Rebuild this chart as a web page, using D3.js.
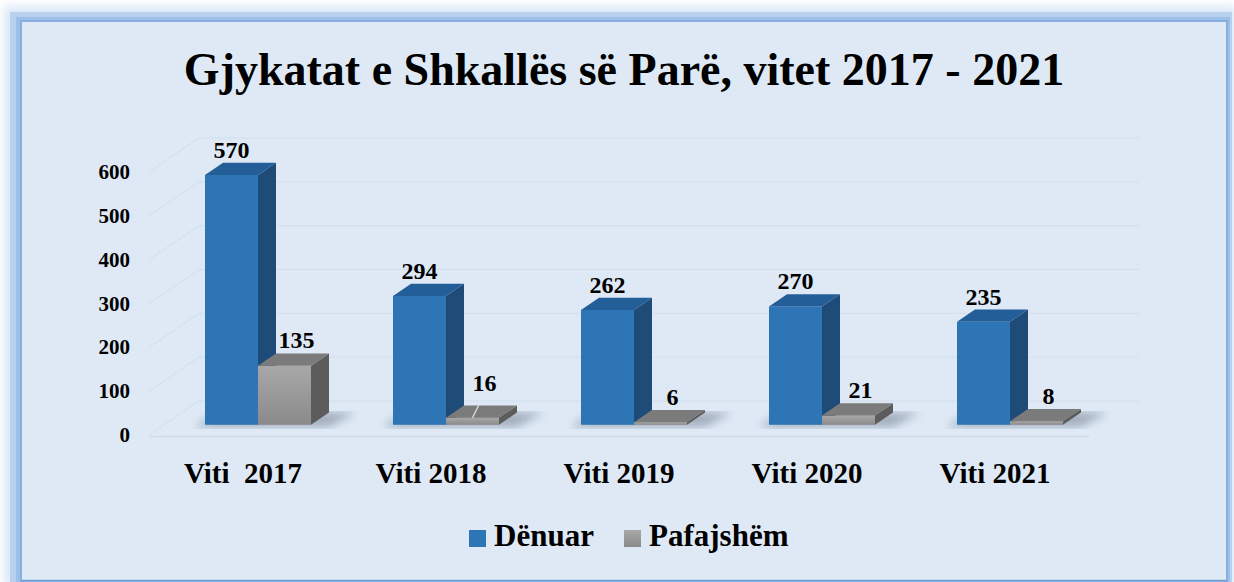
<!DOCTYPE html>
<html lang="sq">
<head>
  <meta charset="UTF-8">
  <title>Gjykatat e Shkallës së Parë</title>
  <script src="https://d3js.org/d3.v7.min.js"></script>
  <style>
    html, body { margin: 0; padding: 0; background: #ffffff; }
    svg { display: block; }
    text { font-family: "Liberation Serif", "Times New Roman", serif; font-weight: bold; fill: #000; }
  </style>
</head>
<body>
<svg width="1234" height="582"></svg>
<script>
// data
const title = "Gjykatat e Shkallës së Parë, vitet 2017 - 2021";
const categories = ["Viti  2017", "Viti 2018", "Viti 2019", "Viti 2020", "Viti 2021"];
const seriesNames = ["Dënuar", "Pafajshëm"];
const denuar = [570, 294, 262, 270, 235];
const pafajshem = [135, 16, 6, 21, 8];
const yTicks = [0, 100, 200, 300, 400, 500, 600];

const svg = d3.select("svg");
const defs = svg.append("defs");

// frame + panel
defs.append("filter").attr("id", "soft").attr("x", "-10%").attr("y", "-10%").attr("width", "120%").attr("height", "120%")
  .append("feGaussianBlur").attr("stdDeviation", 4);

svg.append("rect").attr("x", 4).attr("y", 6).attr("width", 1232).attr("height", 580).attr("fill", "#dbe8f7").attr("filter", "url(#soft)");
svg.append("rect").attr("x", 10).attr("y", 12).attr("width", 1222).attr("height", 572).attr("fill", "#b7d1ef");
svg.append("rect").attr("x", 16).attr("y", 17).attr("width", 1214).attr("height", 566).attr("fill", "#9cc0e8");
svg.append("rect").attr("x", 20).attr("y", 20).attr("width", 1208).attr("height", 562).attr("fill", "#86afe0");
svg.append("rect").attr("x", 22).attr("y", 22).attr("width", 1204).attr("height", 558).attr("fill", "#dee9f5");
svg.append("line").attr("x1", 22).attr("x2", 1226).attr("y1", 580.5).attr("y2", 580.5).attr("stroke", "#6f9fd6").attr("stroke-width", 1.5);

// title
svg.append("text").attr("x", 624).attr("y", 85).attr("text-anchor", "middle")
  .style("font-size", "46px").text(title);

// scales (front plane) + depth vector
const x = d3.scaleBand().domain(categories).range([149, 1089]);
const y = d3.scaleLinear().domain([0, 600]).range([435, 172]);
const D = { x: 50, y: -34 };          // floor depth
const f0 = 0.3, f1 = 0.66;            // bar front/back inside the depth
const barW = 53;
const gridColor = "#d2deec";

const grid = svg.append("g");
yTicks.forEach(v => {
  grid.append("line")
    .attr("x1", x.range()[0] + D.x).attr("x2", x.range()[1] + D.x)
    .attr("y1", y(v) + D.y).attr("y2", y(v) + D.y)
    .attr("stroke", gridColor).attr("stroke-width", 1);
  grid.append("line")
    .attr("x1", x.range()[0]).attr("x2", x.range()[0] + D.x)
    .attr("y1", y(v)).attr("y2", y(v) + D.y)
    .attr("stroke", gridColor).attr("stroke-width", 1);
});
grid.append("line").attr("x1", x.range()[0]).attr("x2", x.range()[1])
  .attr("y1", y(0) + 1.5).attr("y2", y(0) + 1.5).attr("stroke", "#cfdbe9").attr("stroke-width", 1.5);

// y labels
svg.append("g").selectAll("text").data(yTicks).join("text")
  .attr("x", 130).attr("y", d => y(d) + 7).attr("text-anchor", "end")
  .style("font-size", "21px").text(d => d);

// gradients for gray bars
const gFront = defs.append("linearGradient").attr("id", "grayFront").attr("x1", 0).attr("y1", 0).attr("x2", 0).attr("y2", 1);
gFront.append("stop").attr("offset", 0).attr("stop-color", "#a8a8a8");
gFront.append("stop").attr("offset", 1).attr("stop-color", "#8a8a8a");

const colors = [
  { front: "#2e75b6", side: "#1f4b78", top: "#245e99" },
  { front: "url(#grayFront)", side: "#5c5c5c", top: "#7b7b7b" }
];
const series = [denuar, pafajshem];

const ox0 = D.x * f0, oy0 = D.y * f0;
const dd = { x: D.x * (f1 - f0), y: D.y * (f1 - f0) };

const bars = svg.append("g");
const pts = p => p.map(q => q.join(",")).join(" ");

categories.forEach((c, i) => {
  const cx = x(c) + x.bandwidth() / 2 + ox0;
  const gx0 = cx - barW, gx1 = cx + barW;
  const yb = y(0) + oy0;
  // soft shadow on the floor
  bars.append("polygon")
    .attr("points", pts([[gx0 - 10, yb + 2], [gx0 - 4 + dd.x, yb + dd.y], [gx1 + dd.x + 26, yb + dd.y], [gx1 + 18, yb + 2]]))
    .attr("fill", "rgba(30,45,70,0.32)").attr("filter", "url(#soft)");

  series.forEach((vals, s) => {
    const v = vals[i];
    const x0 = gx0 + s * barW, x1 = x0 + barW;
    const yt = y(v) + oy0;
    const col = colors[s];
    bars.append("rect").attr("x", x0).attr("y", yt).attr("width", barW).attr("height", yb - yt).attr("fill", col.front);
    bars.append("polygon").attr("points", pts([[x1, yt], [x1 + dd.x, yt + dd.y], [x1 + dd.x, yb + dd.y], [x1, yb]])).attr("fill", col.side);
    bars.append("polygon").attr("points", pts([[x0, yt], [x0 + dd.x, yt + dd.y], [x1 + dd.x, yt + dd.y], [x1, yt]])).attr("fill", col.top);

    // value label
    const lx = x0 + barW / 2 + (s === 1 ? 12 : 0);
    let ly = yt + dd.y - 5;
    if (s === 1 && i === 1) {
      ly -= 10;
      bars.append("line").attr("x1", x0 + barW / 2).attr("y1", yt)
        .attr("x2", lx - 1).attr("y2", ly + 5)
        .attr("stroke", "#dfe8f2").attr("stroke-width", 1.2);
    }
    bars.append("text").attr("x", lx).attr("y", ly).attr("text-anchor", "middle")
      .style("font-size", "24px").text(v);
  });
});

// category labels
svg.append("g").selectAll("text").data(categories).join("text")
  .attr("x", d => x(d) + x.bandwidth() / 2).attr("y", 483)
  .attr("text-anchor", "middle").style("white-space", "pre").style("font-size", "29px")
  .text(d => d);

// legend
const legendX = [469, 624];
const legend = svg.append("g");
seriesNames.forEach((name, s) => {
  legend.append("rect").attr("x", legendX[s]).attr("y", 530).attr("width", 17).attr("height", 17)
    .attr("fill", s === 0 ? colors[0].front : "url(#grayFront)");
  legend.append("text").attr("x", legendX[s] + 25).attr("y", 546).style("font-size", "31px").text(name);
});
</script>
</body>
</html>
